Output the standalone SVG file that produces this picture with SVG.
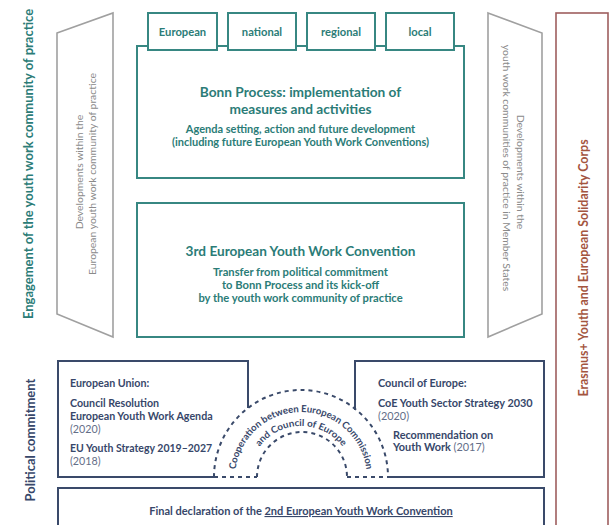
<svg xmlns="http://www.w3.org/2000/svg" width="612" height="525" viewBox="0 0 612 525">
  <style>
    text { font-family: Lato, "Noto Sans", "Liberation Sans", sans-serif; font-weight: 700; }
    .teal { fill: #2b7c77; }
    .navy { fill: #37476a; }
    .gray { fill: #8a8a8a; font-weight: 400; }
    .year { fill: #646e88; font-weight: 400; }
    .tealbox { fill: #ffffff; stroke: #378782; stroke-width: 2; }
    .navyline { fill: none; stroke: #3a4a6a; stroke-width: 2; }
    .dash { fill: none; stroke: #3a4a6a; stroke-width: 2; stroke-dasharray: 4 4; }
    .trap { fill: #ffffff; stroke: #a0a0a0; stroke-width: 1.6; }
  </style>
  <defs>
    <path id="arcOuter" d="M 235 478 A 66 66 0 0 1 367 478"/>
    <path id="arcInner" d="M 249 478 A 52 52 0 0 1 353 478"/>
  </defs>
  <rect width="612" height="525" fill="#ffffff"/>

  <!-- side labels -->
  <text class="teal" font-size="13" text-anchor="middle" transform="translate(33 164) rotate(-90)">Engagement of the youth work community of practice</text>
  <text class="navy" font-size="13" text-anchor="middle" transform="translate(35 440) rotate(-90)">Political commitment</text>

  <!-- left development band -->
  <g id="dev-european">
    <polygon class="trap" points="57,33 113,13 113,337 57,314"/>
    <text class="gray" font-size="10.4" text-anchor="middle" transform="translate(83 172) rotate(-90)">Developments within the</text>
    <text class="gray" font-size="10.4" text-anchor="middle" transform="translate(96 174) rotate(-90)">European youth work community of practice</text>
  </g>

  <!-- right development band -->
  <g id="dev-member-states">
    <polygon class="trap" points="488,13 542,33 542,314 488,337"/>
    <text class="gray" font-size="10.4" text-anchor="middle" transform="translate(517 172) rotate(90)">Developments within the</text>
    <text class="gray" font-size="10.4" text-anchor="middle" transform="translate(503 168) rotate(90)">youth work communities of practice in Member States</text>
  </g>

  <!-- Erasmus+ frame -->
  <g id="erasmus">
    <rect x="556" y="13" width="52" height="530" fill="none" stroke="#9e5e5e" stroke-width="1.6"/>
    <text fill="#a4553f" font-size="12.4" text-anchor="middle" transform="translate(588 268) rotate(-90)">Erasmus+ Youth and European Solidarity Corps</text>
  </g>

  <!-- Bonn Process -->
  <g id="bonn-process">
    <rect class="tealbox" x="137" y="46" width="327" height="132"/>
    <text class="teal" font-size="13.7" text-anchor="middle" x="300.5" y="97">Bonn Process: implementation of</text>
    <text class="teal" font-size="13.7" text-anchor="middle" x="300.5" y="114">measures and activities</text>
    <text class="teal" font-size="11" text-anchor="middle" x="300.5" y="133">Agenda setting, action and future development</text>
    <text class="teal" font-size="11" text-anchor="middle" x="300.5" y="146">(including future European Youth Work Conventions)</text>
  </g>

  <!-- level tabs -->
  <g id="tab-european">
    <rect class="tealbox" x="148" y="13" width="69" height="37"/>
    <text class="teal" font-size="11.2" text-anchor="middle" x="182.5" y="36">European</text>
  </g>
  <g id="tab-national">
    <rect class="tealbox" x="228" y="13" width="68" height="37"/>
    <text class="teal" font-size="11.2" text-anchor="middle" x="262" y="36">national</text>
  </g>
  <g id="tab-regional">
    <rect class="tealbox" x="307" y="13" width="68" height="37"/>
    <text class="teal" font-size="11.2" text-anchor="middle" x="341" y="36">regional</text>
  </g>
  <g id="tab-local">
    <rect class="tealbox" x="386" y="13" width="68" height="37"/>
    <text class="teal" font-size="11.2" text-anchor="middle" x="420" y="36">local</text>
  </g>

  <!-- 3rd Convention -->
  <g id="third-convention">
    <rect class="tealbox" x="137" y="203" width="327" height="134"/>
    <text class="teal" font-size="13.6" text-anchor="middle" x="300.5" y="256">3rd European Youth Work Convention</text>
    <text class="teal" font-size="11.2" text-anchor="middle" x="300.5" y="276">Transfer from political commitment</text>
    <text class="teal" font-size="11.2" text-anchor="middle" x="300.5" y="289">to Bonn Process and its kick-off</text>
    <text class="teal" font-size="11.2" text-anchor="middle" x="300.5" y="302">by the youth work community of practice</text>
  </g>

  <!-- European Union -->
  <g id="european-union">
    <path class="navyline" d="M 248 408 V 361 H 58 V 477 H 214"/>
    <text class="navy" font-size="10.7" x="70" y="387">European Union:</text>
    <text class="navy" font-size="10.7" x="70" y="407">Council Resolution</text>
    <text class="navy" font-size="10.7" x="70" y="420">European Youth Work Agenda</text>
    <text class="year" font-size="10.7" x="70" y="433">(2020)</text>
    <text class="navy" font-size="10.5" x="70" y="452">EU Youth Strategy 2019–2027</text>
    <text class="year" font-size="10.7" x="70" y="465">(2018)</text>
  </g>

  <!-- Council of Europe -->
  <g id="council-of-europe">
    <path class="navyline" d="M 355 410 V 361 H 544 V 477 H 388"/>
    <text class="navy" font-size="10.9" x="378" y="387">Council of Europe:</text>
    <text class="navy" font-size="10.9" x="378" y="407">CoE Youth Sector Strategy 2030</text>
    <text class="year" font-size="10.9" x="378" y="420">(2020)</text>
    <text class="navy" font-size="10.9" x="393" y="439">Recommendation on</text>
    <text font-size="10.9" x="393" y="451"><tspan class="navy">Youth Work </tspan><tspan class="year">(2017)</tspan></text>
  </g>

  <!-- cooperation arch -->
  <g id="connectors">
    <path class="dash" d="M 214 477 A 87 87 0 0 1 388 477"/>
    <path class="dash" d="M 257 477 A 45 45 0 0 1 347 477"/>
    <path class="dash" d="M 214 477 H 257"/>
    <path class="dash" d="M 347 477 H 388"/>
  </g>
  <g id="cooperation">
    <text class="navy" font-size="9.6"><textPath href="#arcOuter" startOffset="50%" text-anchor="middle" textLength="190" lengthAdjust="spacing">Cooperation between European Commission</textPath></text>
    <text class="navy" font-size="9.4"><textPath href="#arcInner" startOffset="50%" text-anchor="middle" textLength="96" lengthAdjust="spacingAndGlyphs">and Council of Europe</textPath></text>
  </g>

  <!-- Final declaration -->
  <g id="final-declaration">
    <path class="navyline" d="M 58 530 V 488 H 544 V 530"/>
    <text class="navy" font-size="11" text-anchor="middle" x="301" y="515">Final declaration of the <tspan text-decoration="underline">2nd European Youth Work Convention</tspan></text>
  </g>
</svg>
